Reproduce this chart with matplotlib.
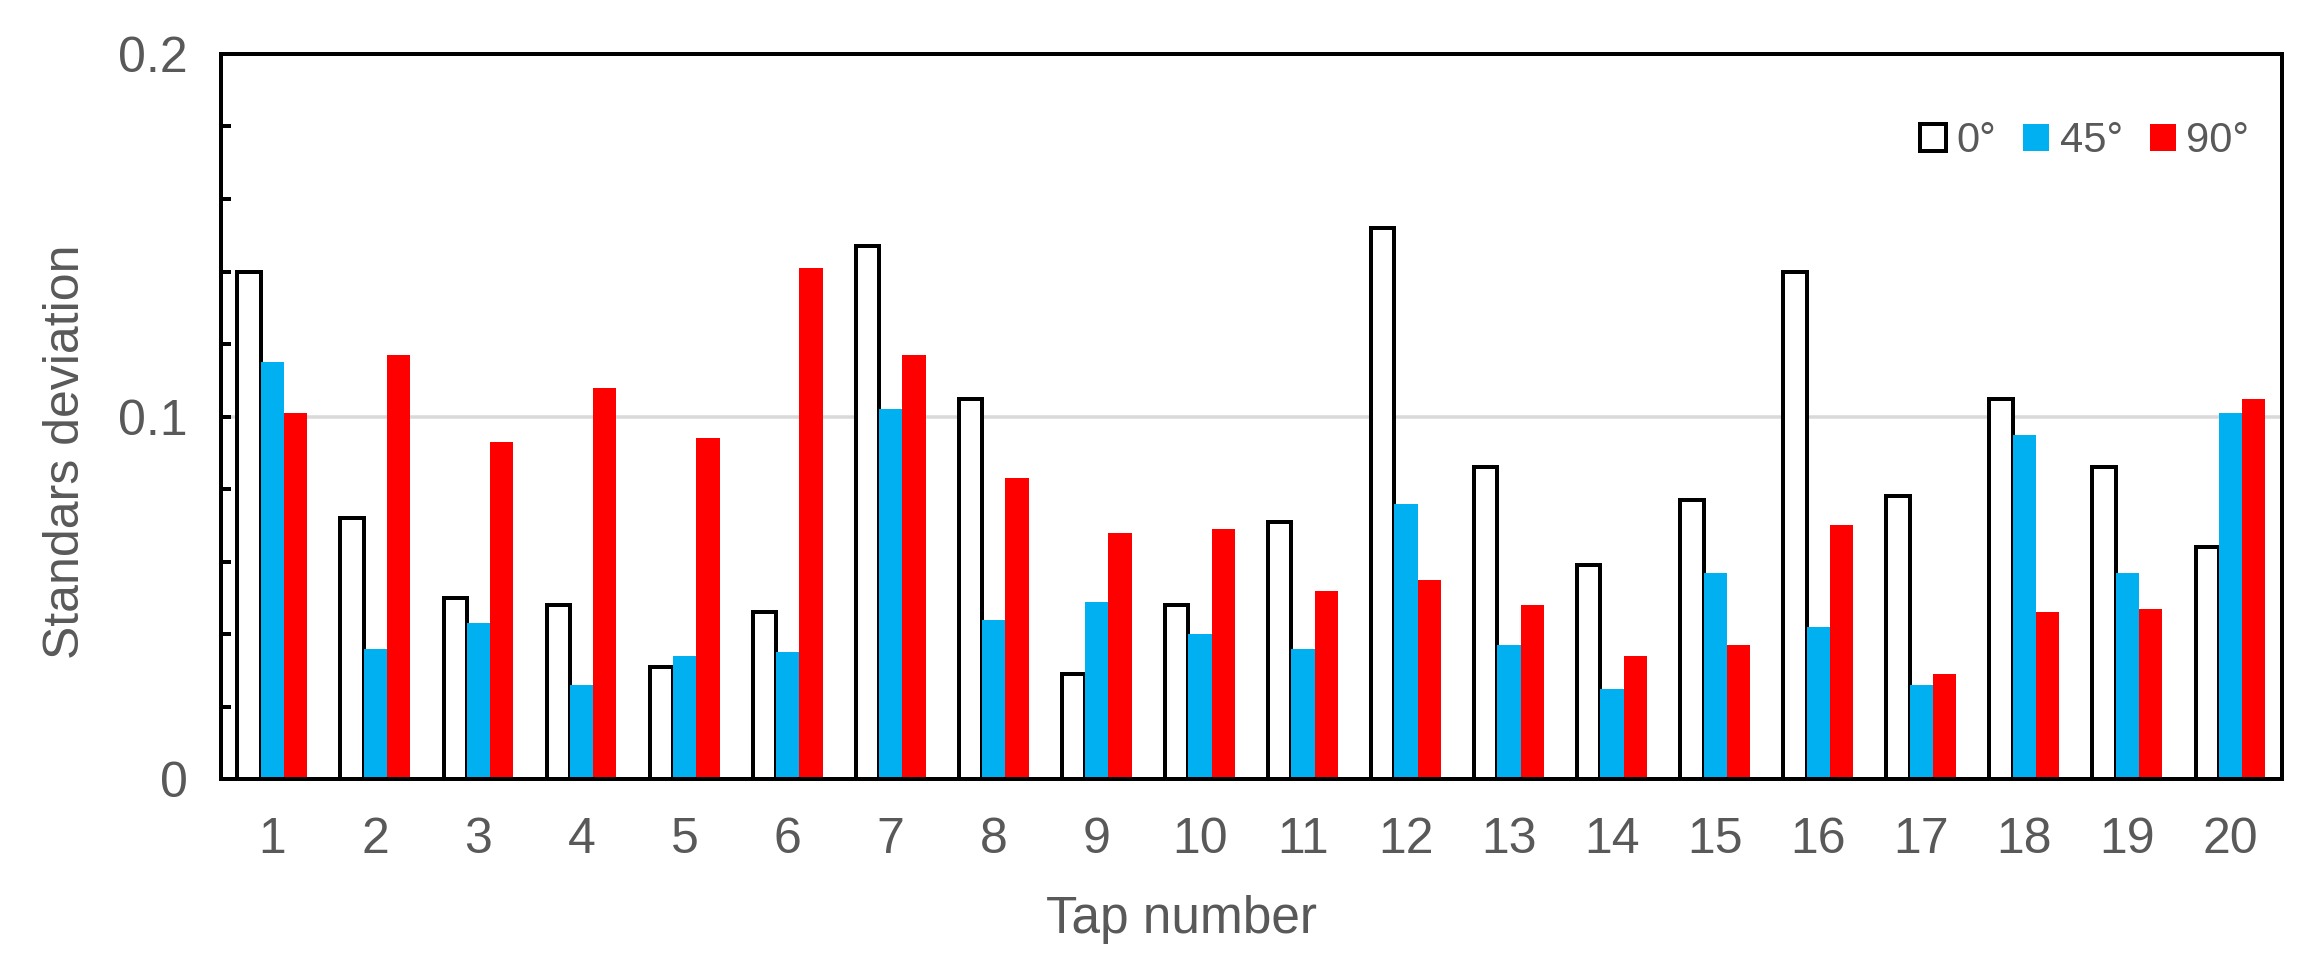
import numpy as np
import matplotlib
matplotlib.use("Agg")
import matplotlib.pyplot as plt
from matplotlib.ticker import MultipleLocator

plt.rcParams["font.family"] = ["Liberation Sans", "DejaVu Sans"]

# 読み取った値
taps = list(range(1, 21))
sd_0deg = [0.140, 0.072, 0.050, 0.048, 0.031, 0.046, 0.147, 0.105, 0.029, 0.048,
           0.071, 0.152, 0.086, 0.059, 0.077, 0.140, 0.078, 0.105, 0.086, 0.064]
sd_45deg = [0.115, 0.036, 0.043, 0.026, 0.034, 0.035, 0.102, 0.044, 0.049, 0.040,
            0.036, 0.076, 0.037, 0.025, 0.057, 0.042, 0.026, 0.095, 0.057, 0.101]
sd_90deg = [0.101, 0.117, 0.093, 0.108, 0.094, 0.141, 0.117, 0.083, 0.068, 0.069,
            0.052, 0.055, 0.048, 0.034, 0.037, 0.070, 0.029, 0.046, 0.047, 0.105]
series_labels = ["0°", "45°", "90°"]
ytick_values = [0, 0.1, 0.2]
ytick_labels = ["0", "0.1", "0.2"]

text_color = "#595959"
dpi = 100
px = 72 / dpi  # 1 pixel in points

fig = plt.figure(figsize=(23.17, 9.6), dpi=dpi)
ax = fig.add_axes([0.0953, 0.1882, 0.8896, 0.7556])

x = np.array(taps)
w = 0.226
ax.bar(x - w, sd_0deg, w, color="white", edgecolor="black", linewidth=4 * px,
       label=series_labels[0], zorder=2)
ax.bar(x, sd_45deg, w, color="#00B0F0", linewidth=0, label=series_labels[1], zorder=3)
ax.bar(x + w, sd_90deg, w, color="#FF0000", linewidth=0, label=series_labels[2], zorder=3)

# 0.1 の横線
ax.axhline(0.1, color="#D9D9D9", linewidth=3.5 * px, zorder=1)

ax.set_xlim(0.5, 20.5)
ax.set_ylim(0, 0.2)
ax.set_xticks(taps)
ax.set_xticklabels([str(t) for t in taps])
ax.set_yticks(ytick_values)
ax.set_yticklabels(ytick_labels)
ax.yaxis.set_minor_locator(MultipleLocator(0.02))

ax.tick_params(axis="x", length=0, pad=38 * px, labelsize=36, labelcolor=text_color)
ax.tick_params(axis="y", which="both", direction="in", length=10 * px, width=4 * px,
               pad=33 * px, labelsize=36, labelcolor=text_color)
ax.tick_params(axis="y", which="minor", labelleft=False)

for s in ax.spines.values():
    s.set_linewidth(4 * px)
    s.set_color("black")
    s.set_zorder(5)

ax.set_xlabel("Tap number", fontsize=37, color=text_color)
ax.xaxis.set_label_coords(0.466, -0.160)
ax.set_ylabel("Standars deviation", fontsize=36, color=text_color)
ax.yaxis.set_label_coords(-0.064, 0.451)

ax.legend(loc="center right", bbox_to_anchor=(0.984, 0.88), ncol=3, frameon=False,
          fontsize=30, labelcolor=text_color, handlelength=0.62, handleheight=0.62,
          handletextpad=0.25, columnspacing=0.65, borderpad=0, borderaxespad=0)

fig.savefig("out.png", dpi=dpi)
